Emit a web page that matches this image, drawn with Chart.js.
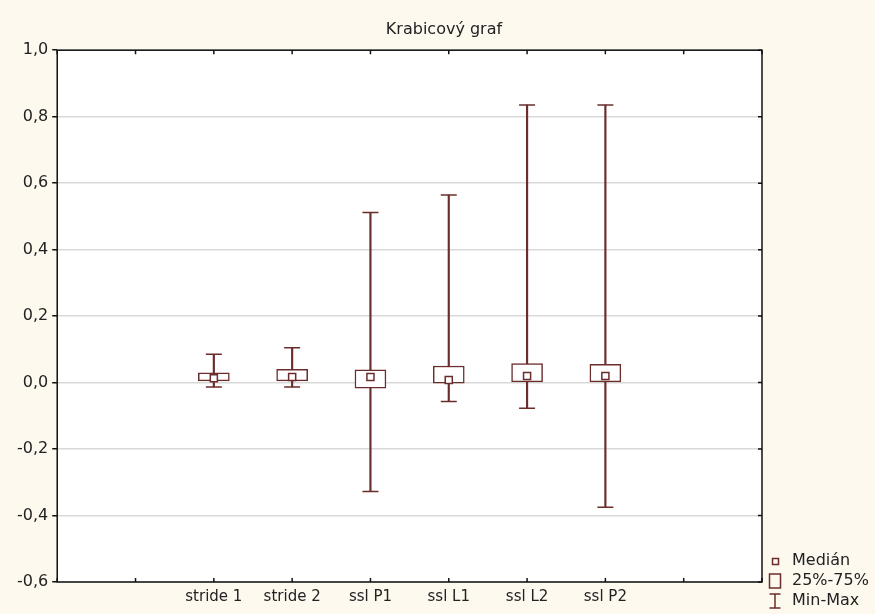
<!DOCTYPE html>
<html>
<head>
<meta charset="utf-8">
<title>Krabicový graf</title>
<script src="https://cdn.jsdelivr.net/npm/chart.js@4.4.1/dist/chart.umd.min.js"></script>
<style>
  html, body { margin: 0; padding: 0; background: #fdf9ef; }
  #wrap { width: 875px; height: 614px; }
</style>
</head>
<body>
<div id="wrap"><canvas id="boxChart" width="875" height="614"></canvas></div>
<script>
// values
const categories = ['stride 1', 'stride 2', 'ssl P1', 'ssl L1', 'ssl L2', 'ssl P2'];
const mins    = [-0.013, -0.013, -0.328, -0.057, -0.077, -0.375];
const q1      = [0.005, 0.005, -0.017, -0.002, 0.000, 0.000];
const medians = [0.013, 0.017, 0.017, 0.008, 0.020, 0.020];
const q3      = [0.029, 0.040, 0.038, 0.050, 0.057, 0.055];
const maxs    = [0.085, 0.105, 0.512, 0.564, 0.835, 0.835];
const yTicks  = [-0.6, -0.4, -0.2, 0.0, 0.2, 0.4, 0.6, 0.8, 1.0];

const boxColor = '#6b2c2c';
const fontFamily = '"DejaVu Sans", Verdana, sans-serif';

// two empty slots on each side, like the original
const labels = ['', ''].concat(categories, ['', '']);
const pad = arr => [null, null].concat(arr, [null, null]);

// small canvases used as legend symbols
function makeSymbol(w, h, drawFn) {
    const c = document.createElement('canvas');
    c.width = w; c.height = h;
    const ctx = c.getContext('2d');
    ctx.strokeStyle = boxColor;
    ctx.lineWidth = 1.5;
    drawFn(ctx);
    return c;
}
const medianSymbol = makeSymbol(14, 14, ctx => { ctx.strokeRect(4.5, 4.5, 6, 6); });
const boxSymbol = makeSymbol(14, 16, ctx => { ctx.strokeRect(1.5, 1, 11, 14); });
const whiskerSymbol = makeSymbol(14, 16, ctx => {
    ctx.beginPath();
    ctx.moveTo(1.5, 1); ctx.lineTo(12.5, 1);
    ctx.moveTo(7, 1); ctx.lineTo(7, 15);
    ctx.moveTo(1.5, 15); ctx.lineTo(12.5, 15);
    ctx.stroke();
});

const backgroundPlugin = {
    id: 'background',
    beforeDraw(chart) {
        const { ctx, chartArea } = chart;
        ctx.save();
        ctx.fillStyle = '#fdf9ef';
        ctx.fillRect(0, 0, chart.width, chart.height);
        ctx.fillStyle = '#ffffff';
        ctx.fillRect(chartArea.left, chartArea.top, chartArea.right - chartArea.left, chartArea.bottom - chartArea.top);
        ctx.restore();
    }
};

// frame around the plot with short inward ticks (top, bottom, right)
const framePlugin = {
    id: 'frame',
    afterDraw(chart) {
        const { ctx, chartArea, scales } = chart;
        const a = chartArea;
        ctx.save();
        ctx.strokeStyle = '#111';
        ctx.lineWidth = 1.5;
        ctx.strokeRect(a.left, a.top, a.right - a.left, a.bottom - a.top);
        ctx.beginPath();
        for (let i = 0; i < labels.length; i++) {
            const x = scales.x.getPixelForTick(i);
            ctx.moveTo(x, a.top); ctx.lineTo(x, a.top + 4);
            ctx.moveTo(x, a.bottom); ctx.lineTo(x, a.bottom - 4);
        }
        yTicks.forEach(v => {
            const y = scales.y.getPixelForValue(v);
            ctx.moveTo(a.right, y); ctx.lineTo(a.right - 4, y);
        });
        ctx.stroke();
        ctx.restore();
    }
};

const ctx = document.getElementById('boxChart').getContext('2d');
const boxChart = new Chart(ctx, {
    type: 'bar',
    data: {
        labels: labels,
        datasets: [
            {
                label: 'Min-Max',
                type: 'bar',
                data: pad(mins.map((m, i) => [m, maxs[i]])),
                backgroundColor: boxColor,
                borderWidth: 0,
                barThickness: 1.5,
                grouped: false,
                order: 4
            },
            {
                label: 'caps',
                type: 'line',
                data: pad(maxs),
                showLine: false,
                pointStyle: 'line',
                pointRadius: 8,
                borderColor: boxColor,
                borderWidth: 1.5,
                order: 3
            },
            {
                label: 'caps low',
                type: 'line',
                data: pad(mins),
                showLine: false,
                pointStyle: 'line',
                pointRadius: 8,
                borderColor: boxColor,
                borderWidth: 1.5,
                order: 3
            },
            {
                label: '25%-75%',
                type: 'bar',
                data: pad(q1.map((v, i) => [v, q3[i]])),
                backgroundColor: '#ffffff',
                borderColor: boxColor,
                borderWidth: 1.5,
                borderSkipped: false,
                barThickness: 31,
                grouped: false,
                order: 2
            },
            {
                label: 'Medián',
                type: 'line',
                data: pad(medians),
                showLine: false,
                pointStyle: 'rect',
                pointRadius: 5,
                backgroundColor: '#ffffff',
                borderColor: boxColor,
                borderWidth: 1.5,
                order: 1
            }
        ]
    },
    options: {
        responsive: false,
        animation: false,
        events: [],
        layout: { padding: { left: 13, right: 0, bottom: 1, top: 0 } },
        scales: {
            x: {
                type: 'category',
                offset: false,
                grid: { display: false, drawTicks: false },
                border: { display: false },
                ticks: {
                    autoSkip: false,
                    maxRotation: 0,
                    padding: 8,
                    color: '#222',
                    font: { family: fontFamily, size: 15, lineHeight: 1.0 }
                }
            },
            y: {
                min: -0.6,
                max: 1.0,
                afterBuildTicks: axis => { axis.ticks = yTicks.map(v => ({ value: v })); },
                grid: {
                    color: '#d9d9d9',
                    lineWidth: 1.5,
                    tickLength: 5,
                    tickColor: '#111'
                },
                border: { display: false },
                ticks: {
                    padding: 4,
                    color: '#222',
                    font: { family: fontFamily, size: 16 },
                    callback: v => Number(v).toFixed(1).replace('.', ',')
                }
            }
        },
        plugins: {
            title: {
                display: true,
                text: 'Krabicový graf',
                color: '#222',
                font: { family: fontFamily, size: 16, weight: 'normal' },
                padding: { top: 20, bottom: 11 }
            },
            legend: {
                display: true,
                position: 'right',
                align: 'end',
                maxWidth: 113,
                onClick: null,
                labels: {
                    usePointStyle: true,
                    pointStyleWidth: 18,
                    padding: 4,
                    color: '#222',
                    font: { family: fontFamily, size: 16, lineHeight: 1.1 },
                    generateLabels: () => [
                        { text: 'Medián', pointStyle: medianSymbol, fontColor: '#222', lineWidth: 0, strokeStyle: 'transparent', fillStyle: 'transparent' },
                        { text: '25%-75%', pointStyle: boxSymbol, fontColor: '#222', lineWidth: 0, strokeStyle: 'transparent', fillStyle: 'transparent' },
                        { text: 'Min-Max', pointStyle: whiskerSymbol, fontColor: '#222', lineWidth: 0, strokeStyle: 'transparent', fillStyle: 'transparent' }
                    ]
                }
            },
            tooltip: { enabled: false }
        }
    },
    plugins: [backgroundPlugin, framePlugin]
});
</script>
</body>
</html>
